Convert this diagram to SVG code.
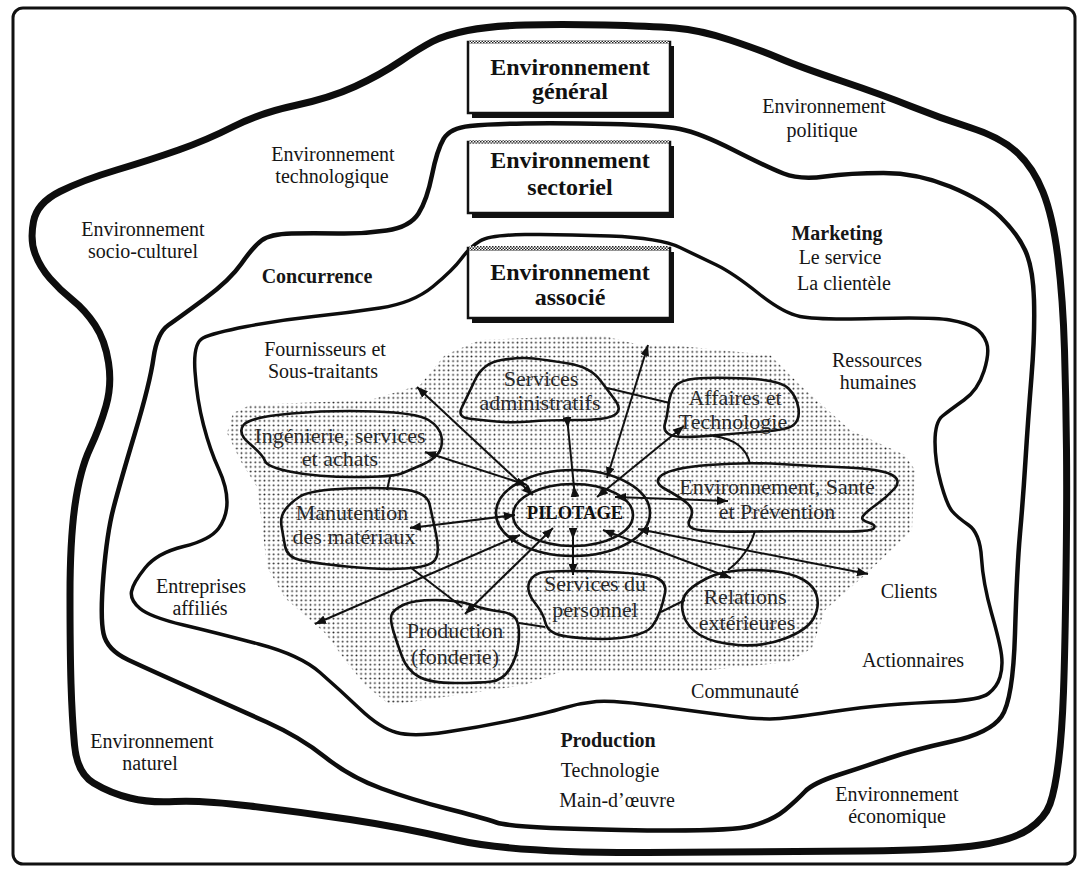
<svg xmlns="http://www.w3.org/2000/svg" width="1082" height="869" viewBox="0 0 1082 869">
  <defs>
    <pattern id="dots" width="4.6" height="4.6" patternUnits="userSpaceOnUse">
      <circle cx="2.3" cy="2.3" r="0.95" fill="#2a2a2a"/>
    </pattern>
    <pattern id="hatch" width="3" height="3" patternUnits="userSpaceOnUse">
      <rect width="3" height="3" fill="#fff"/>
      <rect width="1.5" height="1.5" fill="#222"/>
      <rect x="1.5" y="1.5" width="1.5" height="1.5" fill="#222"/>
    </pattern>
    <!-- solid triangular heads; each variant keeps the triangle on the line -->
    <marker id="out" viewBox="0 0 10 8" refX="10" refY="4" markerWidth="11" markerHeight="9" markerUnits="userSpaceOnUse" orient="auto">
      <path d="M0,0 L10,4 L0,8 z" fill="#111"/>
    </marker>
    <marker id="inS" viewBox="0 0 10 8" refX="0" refY="4" markerWidth="11" markerHeight="9" markerUnits="userSpaceOnUse" orient="auto">
      <path d="M10,0 L0,4 L10,8 z" fill="#111"/>
    </marker>
    <marker id="fwdS" viewBox="0 0 10 8" refX="0" refY="4" markerWidth="11" markerHeight="9" markerUnits="userSpaceOnUse" orient="auto">
      <path d="M0,0 L10,4 L0,8 z" fill="#111"/>
    </marker>
    <marker id="backE" viewBox="0 0 10 8" refX="10" refY="4" markerWidth="11" markerHeight="9" markerUnits="userSpaceOnUse" orient="auto">
      <path d="M10,0 L0,4 L10,8 z" fill="#111"/>
    </marker>
  </defs>
  <style>
    .frame { fill: #fff; stroke: #111; stroke-width: 3; }
    .zone { fill: none; stroke: #0d0d0d; stroke-linejoin: round; stroke-linecap: round; }
    .z1 { stroke-width: 7; }
    .z2 { stroke-width: 4.5; }
    .z3 { stroke-width: 3.5; }
    .cloud { fill: none; stroke: #111; stroke-width: 2.6; stroke-linejoin: round; }
    .link { fill: none; stroke: #111; stroke-width: 2; }
    .lbl { font-family: "Liberation Serif", "Times New Roman", serif; font-size: 20px; fill: #161616; text-anchor: middle; }
    .b { font-weight: bold; }
    .unit { font-family: "Liberation Serif", "Times New Roman", serif; font-size: 22px; fill: #2b2b2b; text-anchor: middle; }
    .title { font-family: "Liberation Serif", "Times New Roman", serif; font-size: 24px; font-weight: bold; fill: #111; text-anchor: middle; }
    .box { fill: #fff; stroke: #111; stroke-width: 2.5; }
    .shadow { fill: #111; }
  </style>

  <!-- page frame -->
  <rect class="frame" x="13" y="8" width="1062" height="856" rx="10"/>

  <!-- nested environment zones -->
  <g id="zones">
    <path id="zone-general" class="zone z1" d="M 233.5,126.5 Q 260,113 295,105.5 Q 330,98 355,86.5 Q 380,75 400,61.5 Q 420,48 432.5,41.5 Q 445,35 467.5,30.5 Q 490,26 525,25 Q 560,24 605,25 Q 650,26 675,28 Q 700,30 730,40 Q 760,50 780,58.5 Q 800,67 841.5,81 Q 883,95 911.5,106.5 Q 940,118 970,127.5 Q 1000,137 1016.5,152 Q 1033,167 1043,192 Q 1053,217 1058,258.5 Q 1063,300 1064.5,350 Q 1066,400 1066.5,450 Q 1067,500 1066,575 Q 1065,650 1063.5,691.5 Q 1062,733 1058.5,761.5 Q 1055,790 1050,804 Q 1045,818 1029,829 Q 1013,840 980,845 Q 947,850 863.5,851 Q 780,852 646.5,852.5 Q 513,853 456.5,840 Q 400,827 350,819.5 Q 300,812 250,806 Q 200,800 175,801.5 Q 150,803 130,798 Q 110,793 93.5,783 Q 77,773 74.5,745 Q 72,717 71,683.5 Q 70,650 70,595 Q 70,540 75,505 Q 80,470 90,448.5 Q 100,427 106,406 Q 112,385 108.5,362.5 Q 105,340 95,325 Q 85,310 72.5,300 Q 60,290 50,278.5 Q 40,267 35,253.5 Q 30,240 33.5,221.5 Q 37,203 60,191.5 Q 83,180 116.5,170 Q 150,160 178.5,150 Q 207,140 233.5,126.5 Z"/>
    <path id="zone-sectoriel" class="zone z2" d="M 241.5,263.5 Q 253,247 261.5,240.5 Q 270,234 291.5,233.5 Q 313,233 338,233.5 Q 363,234 386.5,230.5 Q 410,227 418.5,213.5 Q 427,200 432,175 Q 437,150 443.5,139 Q 450,128 470,126 Q 490,124 525,123.5 Q 560,123 610,124 Q 660,125 680,129 Q 700,133 733.5,150 Q 767,167 783.5,173.5 Q 800,180 825,176.5 Q 850,173 883.5,173 Q 917,173 950,186.5 Q 983,200 1000,216.5 Q 1017,233 1025,250 Q 1033,267 1034,300 Q 1035,333 1031.5,376.5 Q 1028,420 1025.5,460 Q 1023,500 1020,533.5 Q 1017,567 1015,633.5 Q 1013,700 1001.5,716.5 Q 990,733 951.5,741.5 Q 913,750 888,758.5 Q 863,767 838,775 Q 813,783 805,791.5 Q 797,800 785,810 Q 773,820 751.5,826 Q 730,832 621.5,830 Q 513,828 496.5,822.5 Q 480,817 446.5,808.5 Q 413,800 381.5,788.5 Q 350,777 325,757 Q 300,737 266.5,722 Q 233,707 191.5,688.5 Q 150,670 128.5,660 Q 107,650 103.5,633.5 Q 100,617 103.5,575 Q 107,533 113.5,508 Q 120,483 135,433 Q 150,383 153.5,358 Q 157,333 168.5,325 Q 180,317 205,298.5 Q 230,280 241.5,263.5 Z"/>
    <path id="zone-associe" class="zone z3" d="M 203,338 Q 213,333 246.5,326.5 Q 280,320 313.5,316.5 Q 347,313 380,308 Q 413,303 433,286.5 Q 453,270 461.5,258.5 Q 470,247 480,241 Q 490,235 525,234.5 Q 560,234 610,236 Q 660,238 680,247.5 Q 700,257 716.5,265 Q 733,273 758,293 Q 783,313 800,316.5 Q 817,320 875,318.5 Q 933,317 950,320 Q 967,323 975,328 Q 983,333 986.5,342.5 Q 990,352 984,371 Q 978,390 964,400 Q 950,410 942.5,416 Q 935,422 935,442 Q 935,462 941,483.5 Q 947,505 952,511 Q 957,517 968.5,525 Q 980,533 981.5,558 Q 983,583 991.5,613 Q 1000,643 1001.5,655 Q 1003,667 1000,677 Q 997,687 988.5,693.5 Q 980,700 946.5,701.5 Q 913,703 888,705 Q 863,707 830,712 Q 797,717 780,718.5 Q 763,720 731.5,716 Q 700,712 656.5,706 Q 613,700 596.5,701.5 Q 580,703 563.5,708 Q 547,713 513.5,720 Q 480,727 446.5,732 Q 413,737 396.5,732.5 Q 380,728 360,709 Q 340,690 320,672.5 Q 300,655 258.5,644 Q 217,633 183.5,625 Q 150,617 140,608.5 Q 130,600 131.5,591.5 Q 133,583 145,568 Q 157,553 183.5,546.5 Q 210,540 218.5,528.5 Q 227,517 227,502 Q 227,487 218.5,468.5 Q 210,450 203.5,425 Q 197,400 195,371.5 Q 193,343 203,338 Z"/>
  </g>

  <!-- halftone field around the company units -->
  <path id="halftone" fill="url(#dots)" d="M 233,413 L 250,405 L 370,400 L 420,385 L 445,355 L 480,340 L 600,335 L 640,345 L 670,345 L 770,355 L 800,385 L 850,430 L 905,455 L 915,470 L 912,530 L 865,575 L 825,610 L 812,648 L 790,662 L 690,672 L 560,672 L 525,685 L 390,705 L 365,685 L 345,660 L 325,633 L 285,598 L 267,567 L 263,533 L 257,487 L 240,460 L 227,433 Z"/>

  <!-- zone titles -->
  <g id="title-general">
    <rect class="shadow" x="472" y="46" width="202" height="72"/>
    <rect class="box" x="468" y="42" width="202" height="71"/>
    <rect x="469" y="40.5" width="200" height="3" fill="url(#hatch)"/>
    <text class="title" x="570" y="75">Environnement</text>
    <text class="title" x="570" y="99">général</text>
  </g>
  <g id="title-sectoriel">
    <rect class="shadow" x="472" y="146" width="202" height="72"/>
    <rect class="box" x="468" y="142" width="202" height="71"/>
    <rect x="469" y="140.5" width="200" height="3" fill="url(#hatch)"/>
    <text class="title" x="570" y="168">Environnement</text>
    <text class="title" x="570" y="195">sectoriel</text>
  </g>
  <g id="title-associe">
    <rect class="shadow" x="472" y="252" width="202" height="71"/>
    <rect class="box" x="468" y="248" width="202" height="70"/>
    <rect x="469" y="246" width="200" height="5" fill="url(#hatch)"/>
    <text class="title" x="570" y="280">Environnement</text>
    <text class="title" x="570" y="305">associé</text>
  </g>

  <!-- links between units and the steering core -->
  <g id="connectors">
    <path class="link" d="M 533,495 L 417,387" marker-start="url(#inS)" marker-end="url(#out)"/>
    <path class="link" d="M 527,485 L 425,452" marker-start="url(#inS)" marker-end="url(#out)"/>
    <path class="link" d="M 575,497 L 567,417" marker-start="url(#fwdS)" marker-end="url(#backE)"/>
    <path class="link" d="M 607,478 L 648,345" marker-start="url(#inS)" marker-end="url(#out)"/>
    <path class="link" d="M 597,497 L 684,426" marker-start="url(#inS)" marker-end="url(#out)"/>
    <path class="link" d="M 615,497 L 728,501" marker-start="url(#inS)" marker-end="url(#out)"/>
    <path class="link" d="M 515,515 L 410,528" marker-start="url(#inS)" marker-end="url(#out)"/>
    <path class="link" d="M 520,535 L 315,624" marker-start="url(#inS)" marker-end="url(#out)"/>
    <path class="link" d="M 553,528 L 465,614" marker-start="url(#inS)" marker-end="url(#out)"/>
    <path class="link" d="M 573,528 L 573,575" marker-start="url(#fwdS)" marker-end="url(#out)"/>
    <path class="link" d="M 603,530 L 731,578" marker-start="url(#inS)" marker-end="url(#out)"/>
    <path class="link" d="M 638,529 L 868,574" marker-start="url(#inS)" marker-end="url(#out)"/>
    <!-- ties between neighbouring units -->
    <path class="link" d="M 607,388 L 670,403"/>
    <path class="link" d="M 390,477 L 387,490"/>
    <path class="link" d="M 410,567 L 462,607"/>
    <path class="link" d="M 519,623 L 545,627"/>
    <path class="link" d="M 661,612 L 685,600"/>
    <path class="link" d="M 713,436 Q 745,440 750,464"/>
    <path class="link" d="M 755,531 Q 748,555 728,570"/>
  </g>

  <!-- company units -->
  <g id="pilotage">
    <ellipse class="cloud" cx="573" cy="513" rx="77" ry="43"/>
    <ellipse class="cloud" cx="573" cy="515" rx="60" ry="31"/>
    <text x="575" y="519" font-family="Liberation Serif, Times New Roman, serif" font-size="18.5" font-weight="bold" fill="#111" text-anchor="middle">PILOTAGE</text>
  </g>
  <g id="services-admin">
    <path class="cloud" d="M 468.5,418.5 Q 457,417 462,407 Q 467,397 475,380 Q 483,363 501.5,360 Q 520,357 533.5,358.5 Q 547,360 568.5,363.5 Q 590,367 600,380 Q 610,393 616,401.5 Q 622,410 614.5,415 Q 607,420 577,420 Q 547,420 530,421.5 Q 513,423 496.5,421.5 Q 480,420 468.5,418.5 Z"/>
    <text class="unit" x="541" y="386">Services</text>
    <text class="unit" x="540" y="410">administratifs</text>
  </g>
  <g id="affaires">
    <path class="cloud" d="M 668.5,405 Q 670,393 675,386.5 Q 680,380 696.5,378.5 Q 713,377 746.5,378.5 Q 780,380 788.5,388.5 Q 797,397 798.5,408.5 Q 800,420 793.5,425 Q 787,430 763.5,431.5 Q 740,433 718.5,435 Q 697,437 685,437 Q 673,437 668,433.5 Q 663,430 665,423.5 Q 667,417 668.5,405 Z"/>
    <text class="unit" x="735" y="405">Affaires et</text>
    <text class="unit" x="733" y="429">Technologie</text>
  </g>
  <g id="ingenierie">
    <path class="cloud" d="M 250,444 Q 237,433 243.5,425 Q 250,417 291.5,413.5 Q 333,410 375,411.5 Q 417,413 428.5,420 Q 440,427 441.5,437 Q 443,447 438,453.5 Q 433,460 421.5,465 Q 410,470 401.5,473.5 Q 393,477 355,477 Q 317,477 292,472 Q 267,467 265,461 Q 263,455 250,444 Z"/>
    <text class="unit" x="340" y="443">Ingénierie, services</text>
    <text class="unit" x="340" y="466">et achats</text>
  </g>
  <g id="manutention">
    <path class="cloud" d="M 285,510 Q 290,503 300,496.5 Q 310,490 348.5,488.5 Q 387,487 407,490 Q 427,493 429.5,504 Q 432,515 436,534 Q 440,553 435,560 Q 430,567 405,568.5 Q 380,570 346.5,566.5 Q 313,563 300,560 Q 287,557 285,546 Q 283,535 281.5,526 Q 280,517 285,510 Z"/>
    <text class="unit" x="352" y="520">Manutention</text>
    <text class="unit" x="354" y="544">des matériaux</text>
  </g>
  <g id="sante">
    <path class="cloud" d="M 666,489.5 Q 652,482 662,475 Q 672,468 708.5,465 Q 745,462 780,464 Q 815,466 847.5,467.5 Q 880,469 891,474.5 Q 902,480 894.5,488.5 Q 887,497 876.5,504.5 Q 866,512 863,516 Q 860,520 868.5,522.5 Q 877,525 873.5,528.5 Q 870,532 835,531.5 Q 800,531 756.5,531.5 Q 713,532 699,530 Q 685,528 690,519 Q 695,510 687.5,503.5 Q 680,497 666,489.5 Z"/>
    <text class="unit" x="777" y="494">Environnement, Santé</text>
    <text class="unit" x="777" y="519">et Prévention</text>
  </g>
  <g id="personnel">
    <path class="cloud" d="M 535,603 Q 527,593 528.5,585 Q 530,577 538.5,573.5 Q 547,570 597,571.5 Q 647,573 657,578 Q 667,583 665,593 Q 663,603 660,611.5 Q 657,620 652,626.5 Q 647,633 630,636.5 Q 613,640 588,638.5 Q 563,637 555,633.5 Q 547,630 545,621.5 Q 543,613 535,603 Z"/>
    <text class="unit" x="595" y="591">Services du</text>
    <text class="unit" x="595" y="617">personnel</text>
  </g>
  <g id="production-unit">
    <path class="cloud" d="M 391.5,615 Q 393,610 403,605 Q 413,600 435,600 Q 457,600 472,605 Q 487,610 500,611.5 Q 513,613 516.5,620 Q 520,627 518.5,642 Q 517,657 510,668.5 Q 503,680 491.5,681.5 Q 480,683 455,683 Q 430,683 418.5,676.5 Q 407,670 402,656.5 Q 397,643 393.5,631.5 Q 390,620 391.5,615 Z"/>
    <text class="unit" x="455" y="638">Production</text>
    <text class="unit" x="455" y="664">(fonderie)</text>
  </g>
  <g id="relations">
    <path class="cloud" d="M 685,595 Q 690,587 706.5,578.5 Q 723,570 751.5,570 Q 780,570 796.5,576.5 Q 813,583 816.5,595 Q 820,607 813.5,618.5 Q 807,630 785,638.5 Q 763,647 738,645 Q 713,643 700,635 Q 687,627 683.5,615 Q 680,603 685,595 Z"/>
    <text class="unit" x="745" y="604">Relations</text>
    <text class="unit" x="747" y="630">extérieures</text>
  </g>

  <!-- actors and forces named in each zone -->
  <g id="labels">
    <text class="lbl" x="824" y="113">Environnement</text>
    <text class="lbl" x="822" y="137">politique</text>
    <text class="lbl" x="333" y="161">Environnement</text>
    <text class="lbl" x="332" y="183">technologique</text>
    <text class="lbl" x="143" y="236">Environnement</text>
    <text class="lbl" x="143" y="258">socio-culturel</text>
    <text class="lbl b" x="317" y="283">Concurrence</text>
    <text class="lbl b" x="837" y="240">Marketing</text>
    <text class="lbl" x="840" y="264">Le service</text>
    <text class="lbl" x="844" y="290">La clientèle</text>
    <text class="lbl" x="325" y="356">Fournisseurs et</text>
    <text class="lbl" x="323" y="378">Sous-traitants</text>
    <text class="lbl" x="877" y="367">Ressources</text>
    <text class="lbl" x="878" y="389">humaines</text>
    <text class="lbl" x="201" y="593">Entreprises</text>
    <text class="lbl" x="200" y="615">affiliés</text>
    <text class="lbl" x="909" y="598">Clients</text>
    <text class="lbl" x="913" y="667">Actionnaires</text>
    <text class="lbl" x="745" y="698">Communauté</text>
    <text class="lbl b" x="608" y="747">Production</text>
    <text class="lbl" x="610" y="777">Technologie</text>
    <text class="lbl" x="617" y="807">Main-d’œuvre</text>
    <text class="lbl" x="152" y="748">Environnement</text>
    <text class="lbl" x="150" y="770">naturel</text>
    <text class="lbl" x="897" y="801">Environnement</text>
    <text class="lbl" x="897" y="823">économique</text>
  </g>
</svg>
